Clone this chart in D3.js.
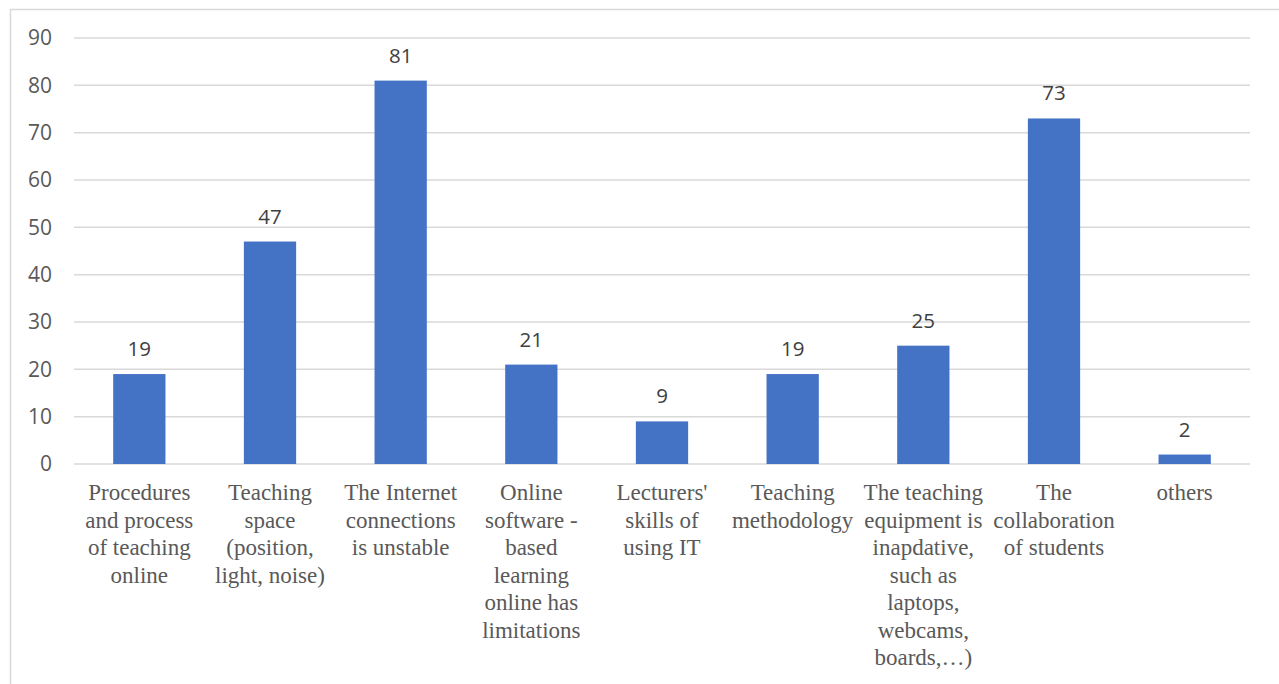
<!DOCTYPE html>
<html><head><meta charset="utf-8">
<script src="https://cdn.jsdelivr.net/npm/d3@7"></script>
<style>body{margin:0;background:#fff;}svg{display:block;}</style>
</head><body>
<svg id="c" width="1279" height="684"></svg>
<script>
const categories = [
  ["Procedures","and process","of teaching","online"],
  ["Teaching","space","(position,","light, noise)"],
  ["The Internet","connections","is unstable"],
  ["Online","software -","based","learning","online has","limitations"],
  ["Lecturers'","skills of","using IT"],
  ["Teaching","methodology"],
  ["The teaching","equipment is","inapdative,","such as","laptops,","webcams,","boards,…)"],
  ["The","collaboration","of students"],
  ["others"]
];
const values = [19, 47, 81, 21, 9, 19, 25, 73, 2];
const yTicks = [0,10,20,30,40,50,60,70,80,90];

const svg = d3.select("#c");
const W = 1279, H = 684;
// frame
svg.append("rect").attr("x",10.5).attr("y",9.5).attr("width",W+10).attr("height",H+10)
  .attr("fill","#fff").attr("stroke","#d9d9d9").attr("stroke-width",1.5);

const x = d3.scaleBand().domain(d3.range(values.length)).range([74,1250]).paddingInner(0.6).paddingOuter(0.3);
const y = d3.scaleLinear().domain([0,90]).range([464,38]);

// gridlines
svg.append("g").selectAll("line").data(yTicks).join("line")
  .attr("x1",74).attr("x2",1250).attr("y1",d=>y(d)).attr("y2",d=>y(d))
  .attr("stroke","#d9d9d9").attr("stroke-width",1.5);

// y axis labels
const yAxis = d3.axisLeft(y).tickValues(yTicks).tickSize(0).tickPadding(0);
const ga = svg.append("g").attr("transform","translate(52,0)").call(yAxis);
ga.select(".domain").remove();
ga.selectAll("text").attr("font-family","'Open Sans', sans-serif").attr("font-size","21px").attr("fill","#595959");

// bars
svg.append("g").selectAll("rect").data(values).join("rect")
  .attr("x",(d,i)=>x(i)).attr("width",x.bandwidth())
  .attr("y",d=>y(d)).attr("height",d=>y(0)-y(d))
  .attr("fill","#4472c4");

// value labels
svg.append("g").selectAll("text").data(values).join("text")
  .attr("x",(d,i)=>x(i)+x.bandwidth()/2).attr("y",d=>y(d)-18)
  .attr("text-anchor","middle").attr("font-family","'Open Sans', sans-serif")
  .attr("font-size","20.5px").attr("fill","#404040").text(d=>d);

// category labels
const gl = svg.append("g");
categories.forEach((lines,i)=>{
  const t = gl.append("text").attr("text-anchor","middle")
    .attr("font-family","'Liberation Serif', 'Times New Roman', serif")
    .attr("font-size","23px").attr("fill","#595959");
  lines.forEach((ln,j)=>{
    t.append("tspan").attr("x",x(i)+x.bandwidth()/2).attr("y",500+j*27.5).text(ln);
  });
});
</script>
</body></html>
